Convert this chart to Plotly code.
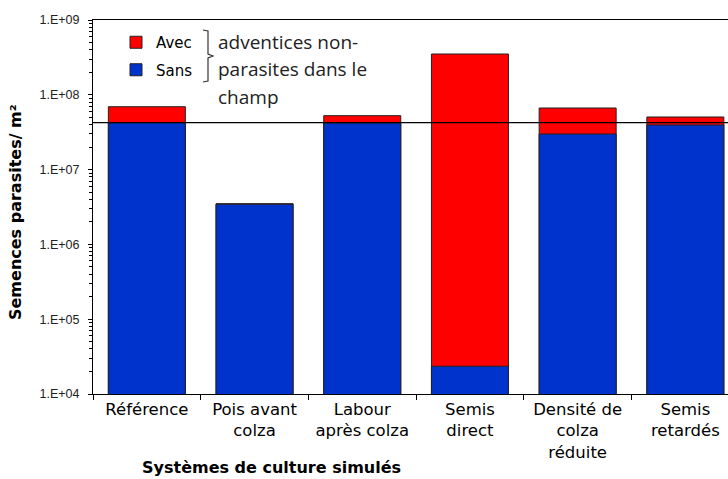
import plotly.graph_objects as go

# ---- data ----
categories = ["Référence", "Pois avant<br>colza", "Labour<br>après colza",
              "Semis<br>direct", "Densité de<br>colza<br>réduite", "Semis<br>retardés"]
sans_values = [4.24e7, 3.45e6, 4.2e7, 2.35e4, 2.99e7, 3.95e7]
avec_values = [6.93e7, 3.5e6, 5.26e7, 3.51e8, 6.66e7, 5.05e7]
reference_level = 4.24e7
y_tickvals = [1e4, 1e5, 1e6, 1e7, 1e8, 1e9]
y_ticktext = ["1.E+04", "1.E+05", "1.E+06", "1.E+07", "1.E+08", "1.E+09"]

W, H = 728, 479
ML, MR, MT, MB = 93, 0, 20, 85
PW, PH = W - ML - MR, H - MT - MB


def px(x):
    return (x - ML) / PW


def py(y):
    return (H - MB - y) / PH


SANS = "DejaVu Sans"
outline = dict(color="#222222", width=1)
fig = go.Figure()
fig.add_trace(go.Bar(x=categories, y=avec_values, name="Avec", width=0.715,
                     marker=dict(color="#FF0000", line=outline),
                     legendgroup="a"))
fig.add_trace(go.Bar(x=categories, y=sans_values, name="Sans", width=0.715,
                     marker=dict(color="#0033CC", line=outline),
                     legendgroup="b"))

fig.add_shape(type="line", xref="paper", yref="y", x0=0, x1=1,
              y0=reference_level, y1=reference_level,
              line=dict(color="black", width=1.2))

# brace next to legend
fig.add_shape(type="path", xref="paper", yref="paper",
              path=(f"M{px(203)},{py(30)} L{px(208)},{py(31)} L{px(208)},{py(54)} "
                    f"L{px(213)},{py(56)} L{px(208)},{py(58)} L{px(208)},{py(81)} "
                    f"L{px(203)},{py(82)}"),
              line=dict(color="#333333", width=1.2))

note_lines = ["adventices non-", "parasites dans le", "champ"]
for i, t in enumerate(note_lines):
    fig.add_annotation(text=t, xref="paper", yref="paper", x=px(216),
                       y=py(41.5 + 27.5 * i), xanchor="left", yanchor="middle",
                       showarrow=False,
                       font=dict(family="Open Sans", size=19, color="#222222"))

fig.add_annotation(text="<b>Systèmes de culture simulés</b>", xref="paper",
                   yref="paper", x=px(271), y=py(467), xanchor="center",
                   yanchor="middle", showarrow=False,
                   font=dict(family=SANS, size=16, color="black"))
fig.add_annotation(text="<b>Semences parasites/ m²</b>", xref="paper",
                   yref="paper", x=px(15), y=py(212), xanchor="center",
                   yanchor="middle", textangle=-90, showarrow=False,
                   font=dict(family=SANS, size=16, color="black"))

fig.update_layout(
    width=W, height=H,
    margin=dict(l=ML, r=MR, t=MT, b=MB, pad=0, autoexpand=False),
    barmode="overlay",
    paper_bgcolor="white", plot_bgcolor="white",
    font=dict(family=SANS, color="black"),
    showlegend=True,
    legend=dict(x=px(116), y=py(26), xanchor="left", yanchor="top",
                bgcolor="rgba(0,0,0,0)", tracegroupgap=5,
                font=dict(family=SANS, size=15, color="black"),
                traceorder="grouped"),
    xaxis=dict(range=[-0.5, -0.5 + PW / 107.7], showline=True,
               linecolor="black", linewidth=1, mirror=True,
               ticks="outside", ticklen=5, tickcolor="black",
               tickson="boundaries", showgrid=False, automargin=False,
               tickfont=dict(family=SANS, size=16.5, color="black")),
    yaxis=dict(type="log", range=[4, 9], showline=True, linecolor="black",
               linewidth=1, ticks="outside", ticklen=4, tickcolor="black",
               tickmode="array", tickvals=y_tickvals, ticktext=y_ticktext,
               showgrid=False, zeroline=False, automargin=False,
               ticklabelstandoff=6,
               tickfont=dict(family="Liberation Sans, Arial", size=12.5,
                             color="#222222"),
               minor=dict(ticks="outside", ticklen=3, tickcolor="black",
                          dtick="D1", showgrid=False)),
)

fig.write_html("out.html",
               config={"displayModeBar": False},
               post_script="document.body.style.margin='0';"
                           "document.body.style.overflow='hidden';")
